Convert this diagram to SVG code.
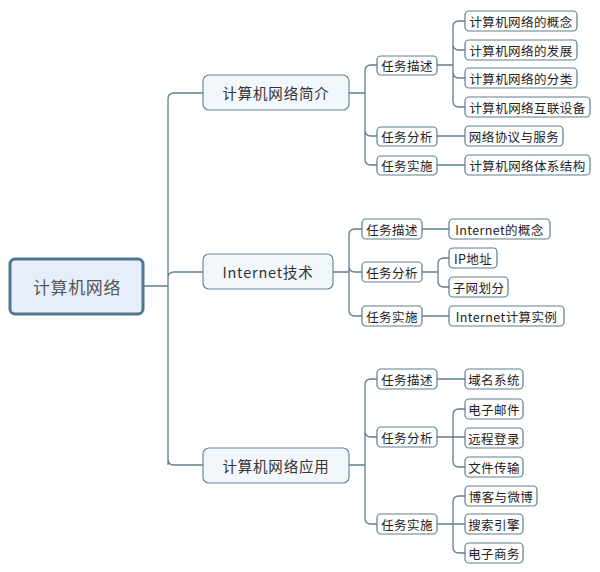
<svg xmlns="http://www.w3.org/2000/svg" width="600" height="572" viewBox="0 0 600 572">
<style>
text{font-family:"Noto Sans CJK SC","Liberation Sans",sans-serif;dominant-baseline:central;text-anchor:middle;}
.root rect{fill:#e6eff9;stroke:#4f7691;stroke-width:3;}
.root text{font-size:17px;fill:#555;letter-spacing:0.6px;}
.l1 rect{fill:#f2f7fc;stroke:#6a8897;stroke-width:1.2;}
.l1 text{font-size:14.5px;fill:#333;letter-spacing:0.8px;}
.l2 rect,.leaf rect{fill:#fff;stroke:#5f7f8e;stroke-width:1.2;}
.l2 text,.leaf text{font-size:12.5px;fill:#222;letter-spacing:0.4px;}
.conn path{fill:none;stroke:#607f8e;stroke-width:1.3;}
</style>
<g class="conn">
<path d="M143 286 H168 M168 465 V99 Q168 93 174 93 H203 M168 278 Q168 272 174 272 H203 M168 459 Q168 465 174 465 H203"/>
<path d="M349 93 H365 M365 159 V71 Q365 65 371 65 H377 M365 130 Q365 136 371 136 H377 M365 159 Q365 165 371 165 H377"/>
<path d="M437 65 H453 M453 101 V27 Q453 21 459 21 H465 M453 44 Q453 50 459 50 H465 M453 72 Q453 78 459 78 H465 M453 101 Q453 107 459 107 H465"/>
<path d="M437 136 H465 M437 165 H465"/>
<path d="M333 272 H349 M349 310 V235 Q349 229 355 229 H362 M349 266 Q349 272 355 272 H362 M349 310 Q349 316 355 316 H362"/>
<path d="M422 229 H449 M422 316 H449 M422 272 H438 M438 281 V264 Q438 258 444 258 H449 M438 281 Q438 287 444 287 H449"/>
<path d="M349 465 H365 M365 518 V385 Q365 379 371 379 H377 M365 431 Q365 437 371 437 H377 M365 518 Q365 524 371 524 H377"/>
<path d="M437 379 H465 M437 437 H465 M453 461 V415 Q453 409 459 409 H465 M453 461 Q453 467 459 467 H465"/>
<path d="M437 524 H465 M453 547 V502 Q453 496 459 496 H465 M453 547 Q453 553 459 553 H465"/>
</g>
<g id="root" class="root"><rect x="10" y="259" width="133" height="55" rx="5"/><text x="77" y="286">计算机网络</text></g>
<g id="n1" class="l1"><rect x="203" y="75" width="146" height="35" rx="6"/><text x="276" y="92.5">计算机网络简介</text></g>
<g id="n2" class="l1"><rect x="203" y="254" width="130" height="35" rx="6"/><text x="268" y="271.5">Internet技术</text></g>
<g id="n3" class="l1"><rect x="203" y="448" width="146" height="35" rx="6"/><text x="276" y="465.5">计算机网络应用</text></g>

<g id="n1a" class="l2"><rect x="377" y="56" width="60" height="19" rx="4"/><text x="407" y="65.5">任务描述</text></g>
<g id="n1b" class="l2"><rect x="377" y="127" width="60" height="19" rx="4"/><text x="407" y="136.5">任务分析</text></g>
<g id="n1c" class="l2"><rect x="377" y="156" width="60" height="19" rx="4"/><text x="407" y="165.5">任务实施</text></g>
<g id="n1a1" class="leaf"><rect x="465" y="11" width="112" height="20" rx="4"/><text x="521" y="21">计算机网络的概念</text></g>
<g id="n1a2" class="leaf"><rect x="465" y="40" width="112" height="20" rx="4"/><text x="521" y="50">计算机网络的发展</text></g>
<g id="n1a3" class="leaf"><rect x="465" y="68" width="112" height="20" rx="4"/><text x="521" y="78">计算机网络的分类</text></g>
<g id="n1a4" class="leaf"><rect x="465" y="97" width="125" height="20" rx="4"/><text x="527.5" y="107">计算机网络互联设备</text></g>
<g id="n1b1" class="leaf"><rect x="465" y="126" width="98" height="20" rx="4"/><text x="514" y="136">网络协议与服务</text></g>
<g id="n1c1" class="leaf"><rect x="465" y="155" width="125" height="20" rx="4"/><text x="527.5" y="165">计算机网络体系结构</text></g>

<g id="n2a" class="l2"><rect x="362" y="219" width="60" height="20" rx="4"/><text x="392" y="229">任务描述</text></g>
<g id="n2b" class="l2"><rect x="362" y="262" width="60" height="20" rx="4"/><text x="392" y="272">任务分析</text></g>
<g id="n2c" class="l2"><rect x="362" y="306" width="60" height="20" rx="4"/><text x="392" y="316">任务实施</text></g>
<g id="n2a1" class="leaf"><rect x="449" y="219" width="101" height="20" rx="4"/><text x="499.5" y="229">Internet的概念</text></g>
<g id="n2b1" class="leaf"><rect x="449" y="248" width="48" height="20" rx="4"/><text x="473" y="258">IP地址</text></g>
<g id="n2b2" class="leaf"><rect x="449" y="277" width="59" height="20" rx="4"/><text x="478.5" y="287">子网划分</text></g>
<g id="n2c1" class="leaf"><rect x="449" y="306" width="115" height="20" rx="4"/><text x="506.5" y="316">Internet计算实例</text></g>

<g id="n3a" class="l2"><rect x="377" y="369" width="60" height="20" rx="4"/><text x="407" y="379">任务描述</text></g>
<g id="n3b" class="l2"><rect x="377" y="427" width="60" height="20" rx="4"/><text x="407" y="437">任务分析</text></g>
<g id="n3c" class="l2"><rect x="377" y="514" width="60" height="20" rx="4"/><text x="407" y="524">任务实施</text></g>
<g id="n3a1" class="leaf"><rect x="465" y="369" width="58" height="20" rx="4"/><text x="494" y="379">域名系统</text></g>
<g id="n3b1" class="leaf"><rect x="465" y="399" width="58" height="20" rx="4"/><text x="494" y="409">电子邮件</text></g>
<g id="n3b2" class="leaf"><rect x="465" y="428" width="58" height="20" rx="4"/><text x="494" y="438">远程登录</text></g>
<g id="n3b3" class="leaf"><rect x="465" y="457" width="58" height="20" rx="4"/><text x="494" y="467">文件传输</text></g>
<g id="n3c1" class="leaf"><rect x="465" y="486" width="72" height="20" rx="4"/><text x="501" y="496">博客与微博</text></g>
<g id="n3c2" class="leaf"><rect x="465" y="514" width="58" height="20" rx="4"/><text x="494" y="524">搜索引擎</text></g>
<g id="n3c3" class="leaf"><rect x="465" y="543" width="58" height="20" rx="4"/><text x="494" y="553">电子商务</text></g>
</svg>
